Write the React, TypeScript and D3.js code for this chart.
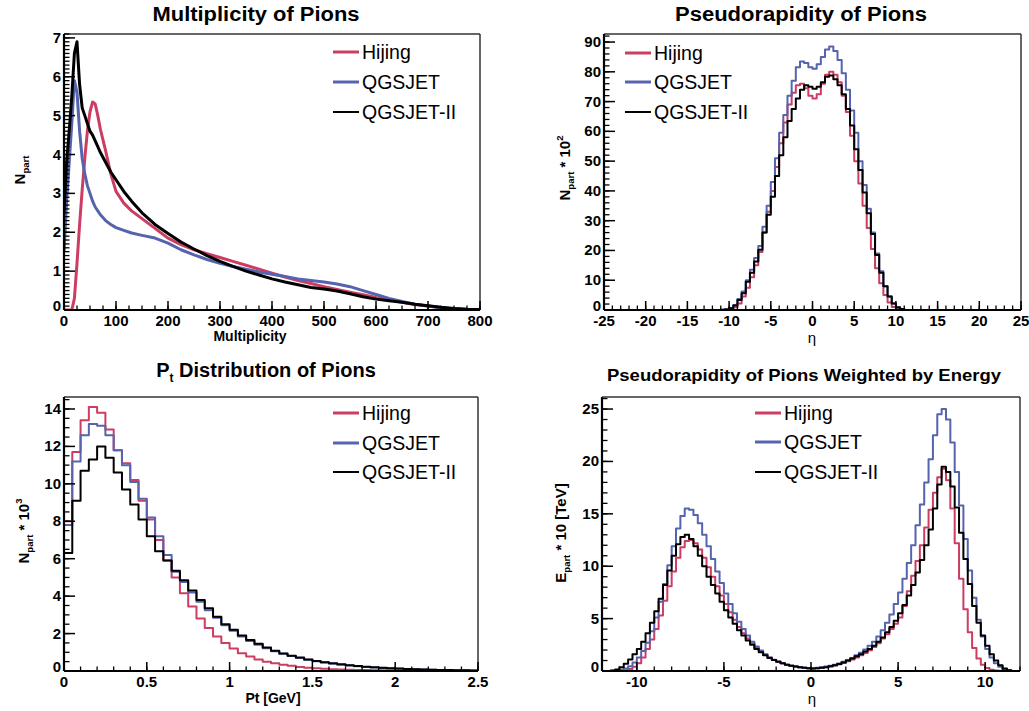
import React from 'react';
import * as d3 from 'd3';

const FONT = '"Liberation Sans", Arial, Helvetica, sans-serif';

// ---------- series ----------
const seriesNames = ['Hijing', 'QGSJET', 'QGSJET-II'];
const seriesColors = ['#cd3d62', '#5663ae', '#000000'];

// ---------- Panel 1: Multiplicity of Pions ----------
const multGrid = [0, 5, 10, 15, 20, 25, 30, 35, 40, 45, 50, 55, 60, 65, 70, 80, 90, 100, 115, 130, 150,
  175, 200, 225, 250, 275, 300, 325, 350, 375, 400, 425, 450, 475, 500, 525, 550, 575, 600, 625, 650, 675,
  700, 725, 750, 775, 800];
const multHijing = [0, 0, 0, 0, 0.3, 1.2, 2.2, 3.1, 3.9, 4.6, 5.1, 5.35, 5.3, 5.0, 4.65, 4.1, 3.5, 3.05,
  2.75, 2.55, 2.35, 2.1, 1.85, 1.68, 1.55, 1.45, 1.35, 1.25, 1.15, 1.05, 0.95, 0.85, 0.76, 0.68, 0.6, 0.53,
  0.46, 0.39, 0.32, 0.26, 0.2, 0.14, 0.1, 0.06, 0.03, 0.015, 0.005];
const multQgsjet = [1.5, 2.8, 3.8, 4.8, 5.9, 5.6, 4.6, 3.9, 3.5, 3.2, 3.0, 2.8, 2.65, 2.55, 2.45, 2.3, 2.2,
  2.12, 2.05, 1.98, 1.92, 1.85, 1.72, 1.55, 1.42, 1.3, 1.2, 1.12, 1.05, 0.98, 0.92, 0.86, 0.8, 0.76, 0.72,
  0.67, 0.6, 0.5, 0.4, 0.3, 0.22, 0.15, 0.1, 0.06, 0.03, 0.015, 0.005];
const multQgsjet2 = [2.5, 3.8, 4.6, 5.5, 6.6, 6.9, 5.8, 5.2, 5.0, 4.8, 4.6, 4.5, 4.35, 4.2, 4.05, 3.8, 3.55,
  3.35, 3.05, 2.8, 2.5, 2.2, 1.97, 1.75, 1.57, 1.4, 1.25, 1.12, 1.0, 0.9, 0.8, 0.72, 0.65, 0.58, 0.54, 0.49,
  0.42, 0.34, 0.28, 0.24, 0.2, 0.15, 0.11, 0.07, 0.04, 0.02, 0.01];

// ---------- Panel 2: Pseudorapidity (bins of 0.5 from -11) ----------
const etaStart = -11;
const etaWidth = 0.5;
const etaHijing = [0, 0.1, 0.3, 0.9, 2.2, 4.5, 7.5, 11, 15, 19.5, 26, 33, 40, 48, 56, 63, 69, 73, 75.5, 76,
  74.5, 72, 71, 72.5, 76, 79, 80, 79, 76.5, 72, 66.5, 58.5, 50, 42.5, 35, 27.5, 20.5, 14, 9, 5, 2.5, 1, 0.3, 0.1];
const etaQgsjet = [0.1, 0.3, 0.7, 1.7, 3.7, 6.2, 10, 13.5, 17.5, 21.5, 28, 35, 43, 51, 59.5, 65.5, 72, 77, 81.5,
  83.5, 83, 81.5, 81, 82.5, 85, 87.5, 88.5, 87, 84, 79.5, 74, 67, 59.5, 50, 42, 34, 26, 19, 13, 8, 4.5, 2.2, 0.8, 0.3];
const etaQgsjet2 = [0.05, 0.2, 0.6, 1.5, 3.4, 5.6, 9.5, 12.5, 16.3, 20.2, 26, 32, 38, 45, 52, 58, 63.5, 67.5, 71,
  74, 75.5, 75, 74.3, 75, 76.5, 78.3, 78.8, 77.5, 75.5, 72.5, 67.5, 62, 54, 47, 39.5, 32.5, 25.5, 18.5, 12.5, 8,
  4.5, 2.2, 0.9, 0.3];

// ---------- Panel 3: Pt distribution (bins of 0.05 from 0) ----------
const ptStart = 0;
const ptWidth = 0.05;
const ptHijing = [8.0, 11.7, 13.4, 14.1, 13.8, 12.9, 11.8, 11.1, 10.2, 9.1,
  8.1, 7.0, 5.9, 5.0, 4.15, 3.45, 2.8, 2.3, 1.85, 1.5,
  1.2, 0.95, 0.77, 0.62, 0.5, 0.41, 0.34, 0.28, 0.22, 0.18,
  0.15, 0.12, 0.1, 0.08, 0.07, 0.06, 0.05, 0.04, 0.035, 0.03,
  0.025, 0.02, 0.018, 0.015, 0.012, 0.01, 0.008, 0.006, 0.005, 0.004];
const ptQgsjet = [7.8, 11.2, 12.6, 13.2, 13.1, 12.6, 11.8, 11.0, 10.1, 9.2,
  8.2, 7.2, 6.2, 5.3, 4.75, 4.2, 3.7, 3.25, 2.85, 2.45,
  2.15, 1.85, 1.6, 1.4, 1.22, 1.05, 0.92, 0.8, 0.7, 0.6,
  0.52, 0.45, 0.39, 0.34, 0.3, 0.26, 0.22, 0.19, 0.16, 0.14,
  0.12, 0.1, 0.09, 0.08, 0.07, 0.06, 0.05, 0.04, 0.035, 0.03];
const ptQgsjet2 = [6.3, 9.1, 10.7, 11.3, 12.0, 11.4, 10.6, 9.7, 8.9, 8.1,
  7.2, 6.4, 5.9, 5.35, 4.85, 4.3, 3.8, 3.35, 2.9, 2.5,
  2.2, 1.9, 1.65, 1.45, 1.25, 1.08, 0.94, 0.82, 0.72, 0.62,
  0.54, 0.47, 0.41, 0.36, 0.31, 0.27, 0.23, 0.2, 0.17, 0.15,
  0.13, 0.11, 0.09, 0.08, 0.07, 0.06, 0.05, 0.04, 0.035, 0.03];

// ---------- Panel 4: Pseudorapidity weighted by energy (bins of 0.25 from -11.5) ----------
const ewStart = -11.5;
const ewWidth = 0.25;
const ewHijing = [0, 0, 0.02, 0.08, 0.2, 0.4, 0.75, 1.3, 2.1, 3.0,
  4.0, 5.3, 6.7, 8.1, 9.5, 10.8, 11.8, 12.4, 12.5, 12.2,
  11.6, 10.8, 9.9, 9.0, 8.1, 7.2, 6.4, 5.6, 4.9, 4.2,
  3.6, 3.1, 2.6, 2.2, 1.85, 1.55, 1.28, 1.06, 0.88, 0.73,
  0.6, 0.5, 0.42, 0.35, 0.3, 0.27,
  0.25, 0.27, 0.3, 0.36, 0.44, 0.53, 0.64, 0.77, 0.92, 1.1,
  1.3, 1.5, 1.72, 1.98, 2.3, 2.65, 3.1, 3.5, 4.0, 4.5,
  5.1, 6.2, 7.6, 9.1, 10.5, 12.0, 13.7, 15.4, 17.0, 18.5,
  19.3, 18.2, 15.5, 12.2, 8.8, 5.9, 3.7, 2.2, 1.2, 0.6,
  0.28, 0.12, 0.05, 0.02, 0, 0];
const ewQgsjet = [0.02, 0.05, 0.12, 0.25, 0.45, 0.8, 1.3, 1.9, 2.7, 3.8,
  5.1, 6.6, 8.3, 10.1, 11.9, 13.6, 14.8, 15.5, 15.4, 14.9,
  14.1, 13.0, 11.9, 10.7, 9.5, 8.4, 7.4, 6.4, 5.5, 4.7,
  4.0, 3.4, 2.8, 2.35, 1.95, 1.6, 1.3, 1.08, 0.9, 0.74,
  0.6, 0.5, 0.42, 0.35, 0.3, 0.27,
  0.27, 0.3, 0.35, 0.42, 0.5, 0.6, 0.72, 0.88, 1.05, 1.25,
  1.5, 1.75, 2.05, 2.4, 2.8, 3.3, 3.9, 4.6, 5.4, 6.4,
  7.5, 8.8, 10.3, 12.0, 13.9, 15.9, 18.0, 20.2, 22.5, 24.5,
  25.0, 24.0, 21.8, 19.0, 15.8, 12.6, 9.6, 7.0, 4.9, 3.3,
  2.1, 1.3, 0.75, 0.4, 0.18, 0.07];
const ewQgsjet2 = [0.05, 0.15, 0.35, 0.7, 1.1, 1.6, 2.1, 2.8, 3.6, 4.6,
  5.7, 6.9, 8.2, 9.6, 11.0, 12.1, 12.8, 13.0, 12.6, 11.9,
  11.0, 10.0, 9.0, 8.2, 7.4, 6.6, 5.8, 5.1, 4.5, 3.9,
  3.4, 2.9, 2.5, 2.1, 1.8, 1.5, 1.25, 1.05, 0.88, 0.73,
  0.6, 0.5, 0.42, 0.35, 0.3, 0.27,
  0.25, 0.27, 0.3, 0.36, 0.45, 0.55, 0.68, 0.82, 1.0, 1.2,
  1.4, 1.6, 1.85, 2.1, 2.4, 2.8, 3.2, 3.7, 4.2, 4.8,
  5.5, 6.3, 7.2, 8.2, 9.4, 10.6, 12.0, 13.5, 15.5, 17.8,
  19.5, 19.0, 17.6, 15.6, 13.2, 10.7, 8.3, 6.2, 4.6, 3.4,
  2.4, 1.6, 1.0, 0.55, 0.25, 0.08];

// ---------- helpers ----------
type Pt = [number, number];
function stepPoints(start: number, width: number, values: number[]): Pt[] {
  const pts: Pt[] = [[start, 0]];
  values.forEach((v, i) => {
    pts.push([start + i * width, v]);
    pts.push([start + (i + 1) * width, v]);
  });
  pts.push([start + values.length * width, 0]);
  return pts;
}
function gridPoints(xs: number[], ys: number[]): Pt[] {
  return xs.map((x, i) => [x, ys[i]] as Pt);
}
function rng(a: number, b: number, s: number): number[] {
  return d3.range(Math.round(a / s), Math.round(b / s) + 1).map((i) => +(i * s).toFixed(6));
}

type Frame = { l: number; r: number; t: number; b: number };

interface PanelProps {
  id: string;
  frame: Frame;
  xDomain: [number, number];
  yDomain: [number, number];
  xMajor: number[];
  xMinor: number[];
  yMajor: number[];
  yMinor: number[];
  curves: { pts: Pt[]; color: string; width: number }[];
  legend: { x: number; ys: number[] };
  title: React.ReactNode;
  xLabel: React.ReactNode;
  yLabel: React.ReactNode;
}

function Panel(p: PanelProps) {
  const { frame: f } = p;
  const x = d3.scaleLinear().domain(p.xDomain).range([f.l, f.r]);
  const y = d3.scaleLinear().domain(p.yDomain).range([f.b, f.t]);
  const line = d3.line<Pt>().x((d) => x(d[0])).y((d) => y(d[1]));
  const fmt = (v: number) => String(+v.toFixed(3));
  return (
    <g>
      <defs>
        <clipPath id={`clip-${p.id}`}>
          <rect x={f.l} y={f.t} width={f.r - f.l} height={f.b - f.t} />
        </clipPath>
      </defs>
      {p.title}
      <g clipPath={`url(#clip-${p.id})`}>
        {p.curves.map((c, i) => (
          <path key={i} d={line(c.pts) || ''} fill="none" stroke={c.color} strokeWidth={c.width}
            strokeLinejoin="round" />
        ))}
      </g>
      {/* frame */}
      <line x1={f.l} x2={f.r} y1={f.t} y2={f.t} stroke="#333" strokeWidth={1.5} />
      <line x1={f.r} x2={f.r} y1={f.t} y2={f.b} stroke="#333" strokeWidth={1.5} />
      <line x1={f.l} x2={f.r} y1={f.b} y2={f.b} stroke="#000" strokeWidth={2.2} />
      <line x1={f.l} x2={f.l} y1={f.t} y2={f.b} stroke="#000" strokeWidth={2.2} />
      {/* x ticks */}
      {p.xMinor.filter((v) => v >= p.xDomain[0] && v <= p.xDomain[1]).map((v, i) => (
        <line key={'xm' + i} x1={x(v)} x2={x(v)} y1={f.b} y2={f.b - 4.5} stroke="#000" strokeWidth={1.3} />
      ))}
      {p.xMajor.map((v, i) => (
        <g key={'xM' + i}>
          <line x1={x(v)} x2={x(v)} y1={f.b} y2={f.b - 9} stroke="#000" strokeWidth={1.5} />
          <text x={x(v)} y={f.b + 16} textAnchor="middle" fontFamily={FONT} fontWeight="bold" fontSize={15}>
            {fmt(v)}
          </text>
        </g>
      ))}
      {/* y ticks */}
      {p.yMinor.filter((v) => v >= p.yDomain[0] && v <= p.yDomain[1]).map((v, i) => (
        <line key={'ym' + i} x1={f.l} x2={f.l + 5.5} y1={y(v)} y2={y(v)} stroke="#000" strokeWidth={1.3} />
      ))}
      {p.yMajor.map((v, i) => (
        <g key={'yM' + i}>
          <line x1={f.l} x2={f.l + 11} y1={y(v)} y2={y(v)} stroke="#000" strokeWidth={1.5} />
          <text x={f.l - 3} y={y(v) + (v === 0 ? 1 : 5)} textAnchor="end" fontFamily={FONT} fontWeight="bold"
            fontSize={15}>
            {fmt(v)}
          </text>
        </g>
      ))}
      {p.xLabel}
      {p.yLabel}
      {/* legend */}
      {seriesNames.map((name, i) => (
        <g key={'lg' + i}>
          <line x1={p.legend.x} x2={p.legend.x + 26} y1={p.legend.ys[i]} y2={p.legend.ys[i]}
            stroke={seriesColors[i]} strokeWidth={i === 2 ? 2 : 3} />
          <text x={p.legend.x + 29} y={p.legend.ys[i] + 7} fontFamily={FONT} fontSize={19.5}>{name}</text>
        </g>
      ))}
    </g>
  );
}

function YLabel({ x, y, main, sub, rest, sup }: { x: number; y: number; main: string; sub: string; rest?: string; sup?: string }) {
  return (
    <text transform={`translate(${x},${y}) rotate(-90)`} textAnchor="middle" fontFamily={FONT}
      fontWeight="bold" fontSize={15}>
      <tspan>{main}</tspan>
      <tspan fontSize={9.5} dy={4}>{sub}</tspan>
      {rest !== undefined && <tspan dy={-4}>{rest}</tspan>}
      {sup !== undefined && <tspan fontSize={9.5} dy={-7}>{sup}</tspan>}
    </text>
  );
}

export default function App() {
  const W = 1029;
  const H = 711;

  const p1: PanelProps = {
    id: 'p1',
    frame: { l: 64, r: 480, t: 34, b: 310 },
    xDomain: [0, 800],
    yDomain: [0, 7.1],
    xMajor: rng(0, 800, 100),
    xMinor: rng(0, 800, 25),
    yMajor: rng(0, 7, 1),
    yMinor: rng(0, 7.1, 0.1),
    curves: [
      { pts: gridPoints(multGrid, multHijing), color: seriesColors[0], width: 3 },
      { pts: gridPoints(multGrid, multQgsjet), color: seriesColors[1], width: 3 },
      { pts: gridPoints(multGrid, multQgsjet2), color: seriesColors[2], width: 3 },
    ],
    legend: { x: 333, ys: [52, 82, 112] },
    title: (
      <text x={256} y={21} textAnchor="middle" fontFamily={FONT} fontWeight="bold" fontSize={20}
        textLength={207} lengthAdjust="spacingAndGlyphs">Multiplicity of Pions</text>
    ),
    xLabel: (
      <text x={250} y={341} textAnchor="middle" fontFamily={FONT} fontWeight="bold" fontSize={14}>Multiplicity</text>
    ),
    yLabel: <YLabel x={25} y={170} main="N" sub="part" />,
  };

  const p2: PanelProps = {
    id: 'p2',
    frame: { l: 604, r: 1021, t: 34, b: 310 },
    xDomain: [-25, 25],
    yDomain: [0, 92.7],
    xMajor: rng(-25, 25, 5),
    xMinor: rng(-25, 25, 1),
    yMajor: rng(0, 90, 10),
    yMinor: rng(0, 92, 2),
    curves: [
      { pts: stepPoints(etaStart, etaWidth, etaHijing), color: seriesColors[0], width: 2 },
      { pts: stepPoints(etaStart, etaWidth, etaQgsjet), color: seriesColors[1], width: 2 },
      { pts: stepPoints(etaStart, etaWidth, etaQgsjet2), color: seriesColors[2], width: 2 },
    ],
    legend: { x: 625, ys: [53, 82, 112] },
    title: (
      <text x={801} y={21} textAnchor="middle" fontFamily={FONT} fontWeight="bold" fontSize={20}
        textLength={252} lengthAdjust="spacingAndGlyphs">Pseudorapidity of Pions</text>
    ),
    xLabel: (
      <text x={812} y={343} textAnchor="middle" fontFamily={FONT} fontSize={15}>η</text>
    ),
    yLabel: <YLabel x={570} y={168} main="N" sub="part" rest=" * 10" sup="2" />,
  };

  const p3: PanelProps = {
    id: 'p3',
    frame: { l: 64, r: 478, t: 397, b: 671 },
    xDomain: [0, 2.5],
    yDomain: [0, 14.64],
    xMajor: rng(0, 2.5, 0.5),
    xMinor: rng(0, 2.5, 0.1),
    yMajor: rng(0, 14, 2),
    yMinor: rng(0, 14.5, 0.5),
    curves: [
      { pts: stepPoints(ptStart, ptWidth, ptHijing), color: seriesColors[0], width: 2 },
      { pts: stepPoints(ptStart, ptWidth, ptQgsjet), color: seriesColors[1], width: 2 },
      { pts: stepPoints(ptStart, ptWidth, ptQgsjet2), color: seriesColors[2], width: 2 },
    ],
    legend: { x: 333, ys: [413, 443, 472] },
    title: (
      <text x={266} y={377} textAnchor="middle" fontFamily={FONT} fontWeight="bold" fontSize={20}>
        <tspan>P</tspan>
        <tspan fontSize={12} dy={5}>t</tspan>
        <tspan dy={-5}> Distribution of Pions</tspan>
      </text>
    ),
    xLabel: (
      <text x={273} y={703} textAnchor="middle" fontFamily={FONT} fontWeight="bold" fontSize={14}>Pt [GeV]</text>
    ),
    yLabel: <YLabel x={29} y={531} main="N" sub="part" rest=" * 10" sup="3" />,
  };

  const p4: PanelProps = {
    id: 'p4',
    frame: { l: 602, r: 1020, t: 397, b: 671 },
    xDomain: [-12, 12],
    yDomain: [0, 26.15],
    xMajor: rng(-10, 10, 5),
    xMinor: rng(-12, 12, 1),
    yMajor: rng(0, 25, 5),
    yMinor: rng(0, 26, 1),
    curves: [
      { pts: stepPoints(ewStart, ewWidth, ewHijing), color: seriesColors[0], width: 2 },
      { pts: stepPoints(ewStart, ewWidth, ewQgsjet), color: seriesColors[1], width: 2 },
      { pts: stepPoints(ewStart, ewWidth, ewQgsjet2), color: seriesColors[2], width: 2 },
    ],
    legend: { x: 755, ys: [413, 442, 472] },
    title: (
      <text x={804} y={381} textAnchor="middle" fontFamily={FONT} fontWeight="bold" fontSize={17}
        textLength={394} lengthAdjust="spacingAndGlyphs">Pseudorapidity of Pions Weighted by Energy</text>
    ),
    xLabel: (
      <text x={812} y={704} textAnchor="middle" fontFamily={FONT} fontSize={15}>η</text>
    ),
    yLabel: <YLabel x={566} y={533} main="E" sub="part" rest=" * 10 [TeV]" />,
  };

  return (
    <svg width={W} height={H} viewBox={`0 0 ${W} ${H}`}
      style={{ position: 'absolute', left: 0, top: 0, background: '#fff' }}>
      <rect x={0} y={0} width={W} height={H} fill="#fff" />
      <Panel {...p1} />
      <Panel {...p2} />
      <Panel {...p3} />
      <Panel {...p4} />
    </svg>
  );
}
